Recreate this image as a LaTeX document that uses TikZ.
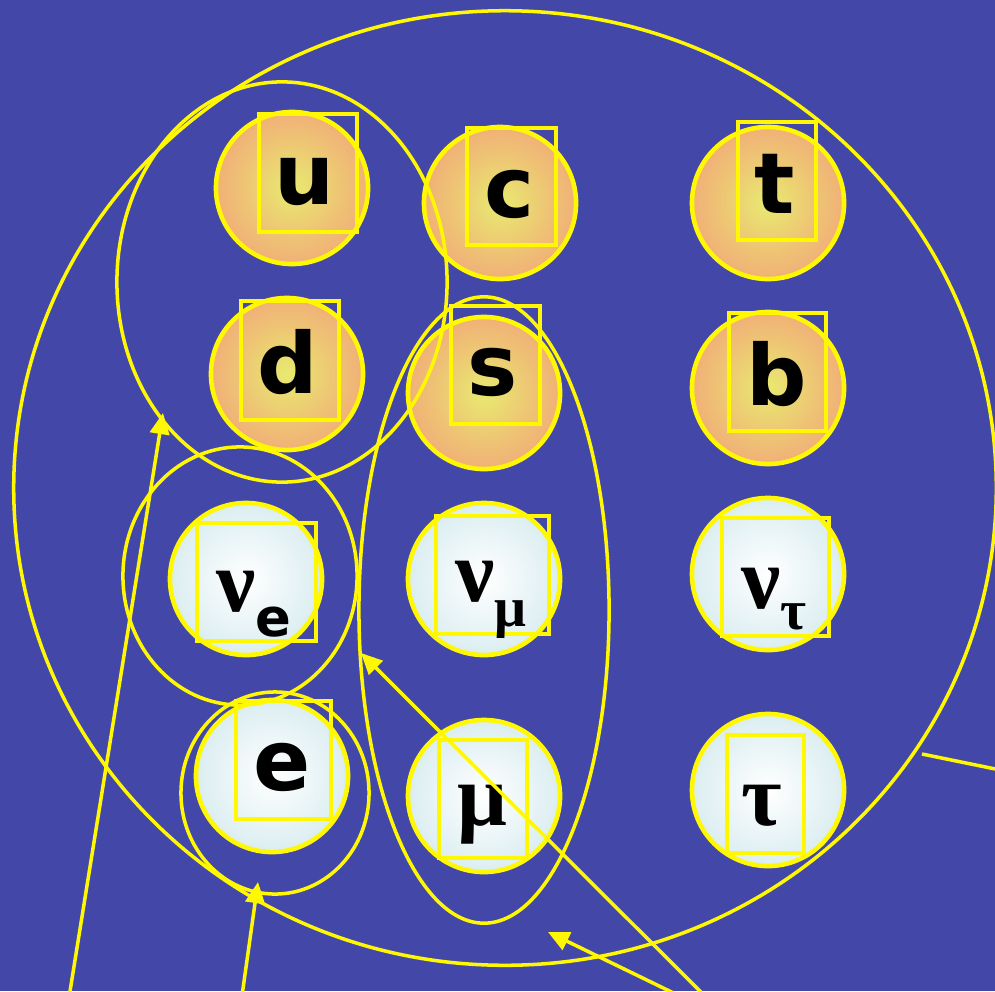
\documentclass[tikz,border=0pt]{standalone}
\usepackage{fontspec}
\setmainfont{DejaVu Sans}
\newfontfamily\greekfont{Liberation Serif}
\usetikzlibrary{arrows.meta, positioning, shapes.geometric}
\definecolor{bgblue}{RGB}{67,72,168}
\definecolor{hiyellow}{RGB}{255,248,0}
\definecolor{quarkin}{RGB}{232,234,112}
\definecolor{quarkmid}{RGB}{238,196,116}
\definecolor{quarkout}{RGB}{243,152,124}
\definecolor{leptonout}{RGB}{192,224,230}
\pgfdeclareradialshading{quarkball}{\pgfpoint{0bp}{0bp}}{color(0bp)=(quarkin); color(16bp)=(quarkmid); color(36bp)=(quarkout); color(72bp)=(quarkout)}
\pgfdeclareradialshading{leptonball}{\pgfpoint{0bp}{0bp}}{color(0bp)=(white); color(44bp)=(leptonout); color(72bp)=(leptonout)}

\begin{document}
\begin{tikzpicture}[x=0.01cm, y=-0.01cm,
  quark/.style={circle, draw=hiyellow, line width=1.3pt, minimum size=1.52cm, inner sep=0pt, shading=quarkball},
  lepton/.style={circle, draw=hiyellow, line width=1.3pt, minimum size=1.52cm, inner sep=0pt, shading=leptonball},
  tag/.style={draw=hiyellow, line width=1.2pt},
  sym/.style={inner sep=0pt, font=\bfseries\fontsize{24}{24}\selectfont},
  greek/.style={inner sep=0pt, font=\greekfont\bfseries\fontsize{25}{25}\selectfont},
  ring/.style={ellipse, draw=hiyellow, line width=1pt, inner sep=0pt},
  pointer/.style={draw=hiyellow, line width=1pt, -{Triangle[length=6pt, width=5.5pt]}}]
\clip (0,0) rectangle (995,991);
\fill[bgblue] (0,0) rectangle (995,991);
% quarks
\node[quark] (u) at (292,188) {};
\node[quark] (c) at (500,203) {};
\node[quark] (t) at (768,203) {};
\node[quark] (d) at (287,374) {};
\node[quark] (s) at (484,393) {};
\node[quark] (b) at (768,388) {};
% leptons
\node[lepton] (nue) at (246,579) {};
\node[lepton] (numu) at (484,579) {};
\node[lepton] (nutau) at (768,574) {};
\node[lepton] (e) at (272,776) {};
\node[lepton] (mu) at (484,796) {};
\node[lepton] (tau) at (768,790) {};
% boxes
\draw[tag] (259,114) rectangle (357,232);
\draw[tag] (467,128) rectangle (556,245);
\draw[tag] (738,122) rectangle (816,240);
\draw[tag] (241,301) rectangle (339,420);
\draw[tag] (451,306) rectangle (540,424);
\draw[tag] (729,313) rectangle (826,431);
\draw[tag] (197,523) rectangle (316,641);
\draw[tag] (436,516) rectangle (549,634);
\draw[tag] (722,518) rectangle (829,636);
\draw[tag] (236,701) rectangle (331,819);
\draw[tag] (439,740) rectangle (527,858);
\draw[tag] (727,735) rectangle (804,853);
% symbols
\node[sym] (u-sym) at (305,182) {u};
\node[sym] (c-sym) at (510,194) {c};
\node[sym] (t-sym) at (775,184) {t};
\node[sym] (d-sym) at (288,362) {d};
\node[sym] (s-sym) at (493,372) {s};
\node[sym] (b-sym) at (777,374) {b};
\node[greek] (nue-sym) at (254,604) {ν\raisebox{-7pt}{\fontfamily{\rmdefault}\bfseries\fontsize{15}{15}\selectfont e}};
\node[greek] (numu-sym) at (491,600) {ν\raisebox{-7pt}{\fontsize{16}{16}\selectfont μ}};
\node[greek] (nutau-sym) at (774,599) {ν\raisebox{-6pt}{\fontsize{16}{16}\selectfont τ}};
\node[sym] (e-sym) at (282,767) {e};
\node[greek] (mu-sym) at (482,815) {μ};
\node[greek] (tau-sym) at (762,806) {τ};
% groupings
\node[ring, minimum width=9.82cm, minimum height=9.54cm] (all) at (505,488) {};
\node[ring, minimum width=3.30cm, minimum height=4.00cm] (first) at (282,282) {};
\node[ring, minimum width=2.34cm, minimum height=2.58cm] (nue-ring) at (240,576) {};
\node[ring, minimum width=1.88cm, minimum height=2.02cm] (e-ring) at (275,793) {};
\node[ring, minimum width=2.50cm, minimum height=6.26cm] (second) at (484,610) {};
% pointers
\coordinate (p1) at (67,1010);
\coordinate (p2) at (240,1010);
\coordinate (p3) at (720,1011);
\coordinate (p4) at (690,1001);
\coordinate (p5) at (1010,772);
\coordinate (first-tip) at (163,413);
\coordinate (e-tip) at (258,882);
\coordinate (second-tip) at (361,653);
\coordinate (mid-tip) at (548,932);
\coordinate (all-edge) at (922,754);
\draw[pointer] (p1) -- (first-tip);
\draw[pointer] (p2) -- (e-tip);
\draw[pointer] (p3) -- (second-tip);
\draw[pointer] (p4) -- (mid-tip);
\draw[hiyellow, line width=1pt] (p5) -- (all-edge);
\end{tikzpicture}
\end{document}
